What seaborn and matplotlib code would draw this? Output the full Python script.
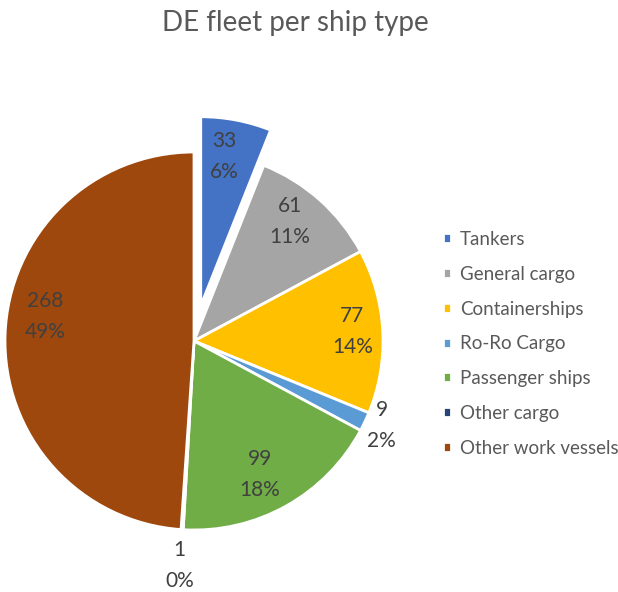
import numpy as np
import matplotlib
matplotlib.use("Agg")
import matplotlib.pyplot as plt
import seaborn as sns

# data
ship_types = ["Tankers", "General cargo", "Containerships", "Ro-Ro Cargo",
              "Passenger ships", "Other cargo", "Other work vessels"]
counts = [33, 61, 77, 9, 99, 1, 268]
colors = ["#4472C4", "#A5A5A5", "#FFC000", "#5B9BD5", "#70AD47", "#264478", "#9E480E"]
explode = [0.19, 0, 0, 0, 0, 0, 0]
# label placement (radius fraction and small angle nudge, degrees)
label_dist = [0.80, 0.81, 0.84, 1.09, 0.79, 1.19, 0.80]
label_nudge = [2, 3, 0.5, 1, -3, 0, -7.5]

sns.set_theme(style="white")
plt.rcParams["font.family"] = ["Lato", "DejaVu Sans"]
palette = sns.color_palette(colors)

fig = plt.figure(figsize=(6.18, 5.92), dpi=100)
W, H = 618, 592
r_px = 189
cx, cy = 194, 592 - 341
lim = 1.3
side = 2 * lim * r_px
ax = fig.add_axes([(cx - side / 2) / W, (cy - side / 2) / H, side / W, side / H])

wedges, _ = ax.pie(counts, colors=palette, explode=explode, startangle=90,
                   counterclock=False, radius=1,
                   wedgeprops=dict(edgecolor="white", linewidth=2))
ax.set_xlim(-lim, lim)
ax.set_ylim(-lim, lim)
ax.set_aspect("equal")
ax.axis("off")

total = sum(counts)
for w, n, d, nudge, ex in zip(wedges, counts, label_dist, label_nudge, explode):
    mid = np.deg2rad((w.theta1 + w.theta2) / 2)
    ox, oy = ex * np.cos(mid), ex * np.sin(mid)
    ang = mid + np.deg2rad(nudge)
    ax.text(ox + d * np.cos(ang), oy + d * np.sin(ang),
            f"{n}\n{n / total:.0%}", ha="center", va="center",
            fontsize=15, color="#404040", linespacing=1.68)

fig.suptitle("DE fleet per ship type", x=295 / W, y=1 - 10 / H, va="top",
             fontsize=20, color="#595959")

fig.legend(wedges, ship_types, loc="upper left",
           bbox_to_anchor=(426 / W, 1 - 214 / H), frameon=False,
           fontsize=13.5, labelcolor="#595959", handlelength=0.45,
           handleheight=0.45, handletextpad=0.45, labelspacing=0.95)

fig.savefig("out.png", dpi=100)
